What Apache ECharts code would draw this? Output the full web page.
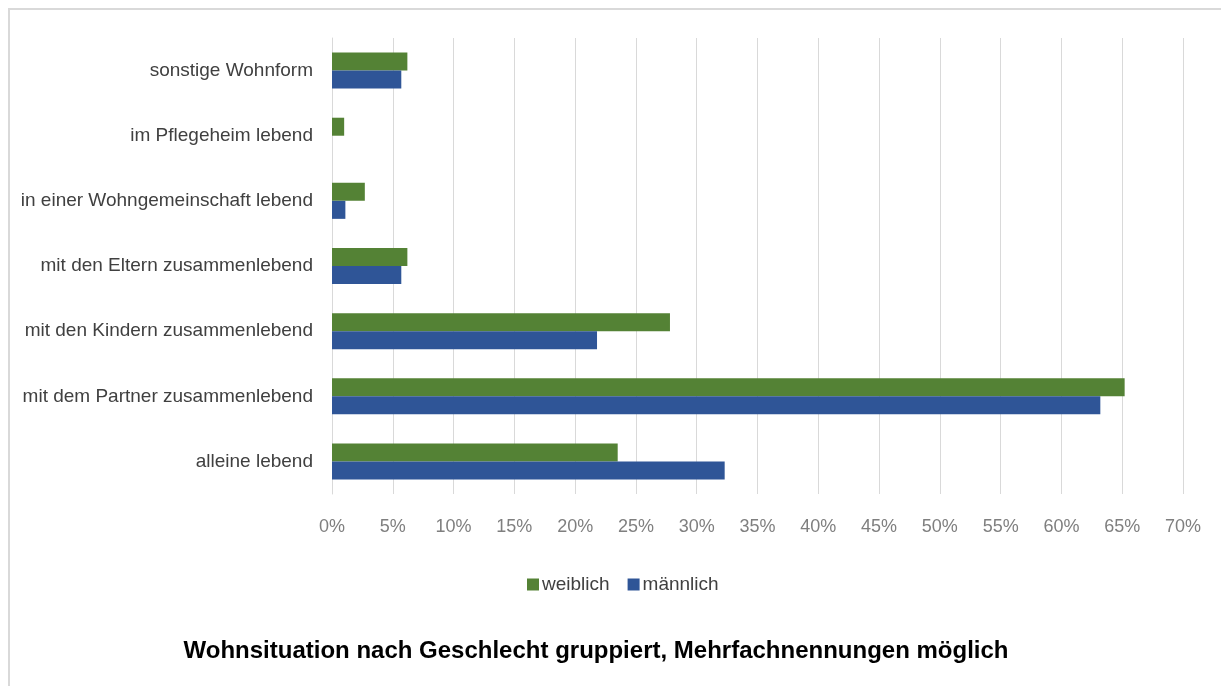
<!DOCTYPE html>
<html>
<head>
<meta charset="utf-8">
<script src="https://cdn.jsdelivr.net/npm/echarts@6/dist/echarts.min.js"></script>
<style>
  html, body { margin: 0; padding: 0; background: #fff; }
  #chart { width: 1221px; height: 686px; }
</style>
</head>
<body>
<div id="chart"></div>
<script>
// categories, top to bottom
const categories = [
    'sonstige Wohnform',
    'im Pflegeheim lebend',
    'in einer Wohngemeinschaft lebend',
    'mit den Eltern zusammenlebend',
    'mit den Kindern zusammenlebend',
    'mit dem Partner zusammenlebend',
    'alleine lebend'
];
const weiblich = [6.2, 1.0, 2.7, 6.2, 27.8, 65.2, 23.5];
const maennlich = [5.7, 0, 1.1, 5.7, 21.8, 63.2, 32.3];
const seriesNames = ['weiblich', 'männlich'];
const titleText = 'Wohnsituation nach Geschlecht gruppiert, Mehrfachnennungen möglich';

const font = '"Liberation Sans Narrow", "Arial Narrow", "Liberation Sans", sans-serif';

const myChart = echarts.init(document.getElementById('chart'));

const option = {
    animation: false,
    title: {
        text: titleText,
        left: 591,
        textAlign: 'center',
        top: 634,
        textStyle: { fontFamily: font, fontSize: 24, fontWeight: 'bold', color: '#000' }
    },
    legend: {
        data: seriesNames,
        left: 522,
        top: 570,
        itemWidth: 12,
        itemHeight: 12,
        itemGap: 18,
        icon: 'rect',
        textStyle: { fontFamily: font, fontSize: 19, color: '#404040', padding: [0, 0, 0, -2] }
    },
    grid: {
        left: 332,
        right: 38,
        top: 38,
        height: 456,
        containLabel: false
    },
    xAxis: {
        type: 'value',
        min: 0,
        max: 70,
        interval: 5,
        axisLine: { show: false },
        axisTick: { show: false },
        splitLine: { lineStyle: { color: '#d9d9d9', width: 1 } },
        axisLabel: {
            formatter: '{value}%',
            fontFamily: font,
            fontSize: 18,
            color: '#7f7f7f',
            margin: 24
        }
    },
    yAxis: {
        type: 'category',
        data: categories,
        inverse: true,
        axisLine: { lineStyle: { color: '#d9d9d9' } },
        axisTick: { show: false },
        axisLabel: {
            fontFamily: font,
            fontSize: 19,
            color: '#404040',
            margin: 19
        }
    },
    series: [
        {
            name: 'weiblich',
            type: 'bar',
            data: weiblich,
            barWidth: 18,
            barGap: '0%',
            itemStyle: { color: '#548235' }
        },
        {
            name: 'männlich',
            type: 'bar',
            data: maennlich,
            barWidth: 18,
            barGap: '0%',
            itemStyle: { color: '#2f5597' }
        }
    ],
    graphic: [
        {
            type: 'rect',
            shape: { x: 9, y: 9, width: 1230, height: 700 },
            style: { fill: 'none', stroke: '#d9d9d9', lineWidth: 2 },
            silent: true
        }
    ]
};

myChart.setOption(option);
</script>
</body>
</html>
